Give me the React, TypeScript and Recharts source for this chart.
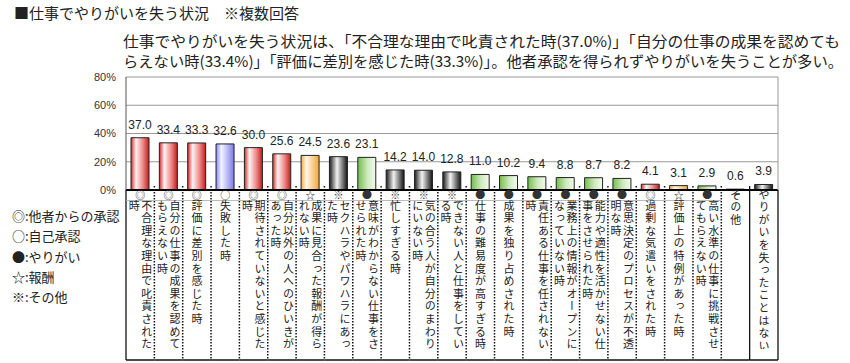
import React from "react";
import {
  BarChart,
  Bar,
  XAxis,
  YAxis,
  CartesianGrid,
  Cell,
  LabelList,
} from "recharts";

const categories = [
  "不合理な理由で叱責された時",
  "自分の仕事の成果を認めてもらえない時",
  "評価に差別を感じた時",
  "失敗した時",
  "期待されていないと感じた時",
  "自分以外の人へのひいきがあった時",
  "成果に見合った報酬が得られない時",
  "セクハラやパワハラにあった時",
  "意味がわからない仕事をさせられた時",
  "忙しすぎる時",
  "気の合う人が自分のまわりにいない時",
  "できない人と仕事をしている時",
  "仕事の難易度が高すぎる時",
  "成果を独り占めされた時",
  "責任ある仕事を任されない時",
  "業務上の情報がオープンになっていない時",
  "能力や適性を活かせない仕事をさせられた時",
  "意思決定のプロセスが不透明な時",
  "過剰な気遣いをされた時",
  "評価上の特例があった時",
  "高い水準の仕事に挑戦させてもらえない時",
  "その他",
  "やりがいを失ったことはない",
];

const values = [
  37.0, 33.4, 33.3, 32.6, 30.0, 25.6, 24.5, 23.6, 23.1, 14.2, 14.0, 12.8, 11.0,
  10.2, 9.4, 8.8, 8.7, 8.2, 4.1, 3.1, 2.9, 0.6, 3.9,
];

const symbols = [
  "◎", "◎", "◎", "○", "◎", "◎", "☆", "※", "●", "※", "※", "※", "●",
  "●", "●", "●", "●", "●", "◎", "☆", "●", "", "",
];

const groups = [
  "red", "red", "red", "blue", "red", "red", "orange", "black", "green",
  "black", "black", "black", "green", "green", "green", "green", "green",
  "green", "red", "orange", "green", "black", "black",
];

const yTicks = [0, 20, 40, 60, 80];

const legendItems = [
  "◎:他者からの承認",
  "○:自己承認",
  "●:やりがい",
  "☆:報酬",
  "※:その他",
];

const data = categories.map((name, i) => ({
  name,
  value: values[i],
  symbol: symbols[i],
  group: groups[i],
}));

const W = 850;
const H = 363;
const PLOT_LEFT = 126;
const PLOT_RIGHT = 778;
const PITCH = (PLOT_RIGHT - PLOT_LEFT) / categories.length;
const TABLE_H = 170;
const JP = "'Noto Sans CJK JP', 'Noto Sans', sans-serif";
const NUM = "'Liberation Sans', Arial, sans-serif";

function chunk(text: string, n: number) {
  const chars = Array.from(text);
  const out: string[] = [];
  for (let i = 0; i < chars.length; i += n) out.push(chars.slice(i, i + n).join(""));
  return out;
}

function TableTick(props: any) {
  const { x, y, index } = props;
  const d = data[index];
  if (!d) return null;
  const left = x - PITCH / 2;
  const right = x + PITCH / 2;
  const last = index === data.length - 1;
  const hasSym = d.symbol !== "";
  const solidLeft = index === 0 || index === data.length - 1;
  const lines = chunk(d.name, hasSym ? 12 : 13);
  return (
    <g>
      <line
        x1={left}
        x2={left}
        y1={index === 0 ? y : y - 4}
        y2={y + TABLE_H}
        stroke="#111"
        strokeWidth={solidLeft ? 1.3 : 1.5}
        strokeDasharray={solidLeft ? undefined : "1.6 1.4"}
      />
      {last && (
        <line x1={right} x2={right} y1={y} y2={y + TABLE_H} stroke="#111" strokeWidth={1.3} />
      )}
      <line x1={left} x2={right} y1={y + TABLE_H} y2={y + TABLE_H} stroke="#111" strokeWidth={1.5} />
      {hasSym && (
        <>
          <text
            x={x}
            y={y + 9}
            textAnchor="middle"
            fontSize={10}
            fontFamily={JP}
            fill="#333"
          >
            {d.symbol}
          </text>
          <line x1={left} x2={right} y1={y + 10.5} y2={y + 10.5} stroke="#aaa" strokeWidth={0.8} />
        </>
      )}
      <foreignObject x={left} y={hasSym ? y + 10 : y - 1} width={PITCH} height={TABLE_H - 10}>
        <div style={{ display: "flex", justifyContent: "center", width: "100%", height: "100%" }}>
          <div
            style={{
              writingMode: "vertical-rl",
              fontFamily: JP,
              fontSize: 11,
              lineHeight: "12.5px",
              letterSpacing: "1.6px",
              color: "#222",
              height: TABLE_H - 10,
              whiteSpace: "nowrap",
            }}
          >
            {lines.map((l, i) => (
              <React.Fragment key={i}>
                {l}
                {i < lines.length - 1 && <br />}
              </React.Fragment>
            ))}
          </div>
        </div>
      </foreignObject>
    </g>
  );
}

export default function App() {
  return (
    <div style={{ position: "absolute", left: 0, top: 0, width: W, height: H, background: "#fff" }}>
      <BarChart
        width={W}
        height={H}
        data={data}
        margin={{ top: 77, right: 71, bottom: H - 190 - TABLE_H, left: PLOT_LEFT - 40 }}
      >
        <defs>
          <linearGradient id="g-red" x1="0" y1="0" x2="1" y2="0">
            <stop offset="0" stopColor="#d42a2a" />
            <stop offset="0.28" stopColor="#fff3f3" />
            <stop offset="0.65" stopColor="#ef8a8a" />
            <stop offset="1" stopColor="#c41c1c" />
          </linearGradient>
          <linearGradient id="g-blue" x1="0" y1="0" x2="1" y2="0">
            <stop offset="0" stopColor="#8a8af0" />
            <stop offset="0.3" stopColor="#f3f3ff" />
            <stop offset="1" stopColor="#7a7ae6" />
          </linearGradient>
          <linearGradient id="g-orange" x1="0" y1="0" x2="1" y2="0">
            <stop offset="0" stopColor="#f4ae48" />
            <stop offset="0.3" stopColor="#fff7e6" />
            <stop offset="1" stopColor="#f0a53a" />
          </linearGradient>
          <linearGradient id="g-black" x1="0" y1="0" x2="1" y2="0">
            <stop offset="0" stopColor="#1a1a1a" />
            <stop offset="0.42" stopColor="#f2f2f2" />
            <stop offset="1" stopColor="#111" />
          </linearGradient>
          <linearGradient id="g-green" x1="0" y1="0" x2="1" y2="0">
            <stop offset="0" stopColor="#74bd4c" />
            <stop offset="0.55" stopColor="#cfeabf" />
            <stop offset="1" stopColor="#f3faee" />
          </linearGradient>
        </defs>
        <CartesianGrid vertical={false} stroke="#999" />
        <XAxis
          dataKey="name"
          interval={0}
          height={TABLE_H}
          tickLine={false}
          tickSize={0}
          tickMargin={0}
          axisLine={{ stroke: "#000", strokeWidth: 2 }}
          tick={<TableTick />}
        />
        <YAxis
          domain={[0, 80]}
          ticks={yTicks}
          width={40}
          tickLine={false}
          tickSize={0}
          tickMargin={10}
          axisLine={{ stroke: "#555" }}
          tickFormatter={(v: number) => `${v}%`}
          tick={{ fontSize: 11, fill: "#333", fontFamily: NUM }}
        />
        <YAxis
          yAxisId="r"
          orientation="right"
          width={1}
          tick={false}
          tickLine={false}
          axisLine={{ stroke: "#999" }}
        />
        <Bar dataKey="value" barSize={18} stroke="#222" strokeWidth={1} isAnimationActive={false}>
          {data.map((d, i) => (
            <Cell key={i} fill={`url(#g-${d.group})`} />
          ))}
          <LabelList
            dataKey="value"
            position="top"
            offset={9}
            fontSize={12}
            fill="#222"
            fontFamily={NUM}
            formatter={(v: any) => Number(v).toFixed(1)}
          />
        </Bar>
      </BarChart>
      <svg
        width={W}
        height={H}
        style={{ position: "absolute", left: 0, top: 0, pointerEvents: "none" }}
      >
        <text x={14} y={19} fontSize={15} fontFamily={JP} fill="#222">
          ■仕事でやりがいを失う状況　※複数回答
        </text>
        <text
          x={123}
          y={47}
          fontSize={15}
          fontFamily={JP}
          fill="#222"
          textLength={717}
          lengthAdjust="spacingAndGlyphs"
        >
          仕事でやりがいを失う状況は、「不合理な理由で叱責された時(37.0%)」「自分の仕事の成果を認めても
        </text>
        <text
          x={123}
          y={67}
          fontSize={15}
          fontFamily={JP}
          fill="#222"
          textLength={720}
          lengthAdjust="spacingAndGlyphs"
        >
          らえない時(33.4%)」「評価に差別を感じた時(33.3%)」。他者承認を得られずやりがいを失うことが多い。
        </text>
        {legendItems.map((t, i) => (
          <text key={t} x={12} y={221 + i * 20.3} fontSize={13} fontFamily={JP} fill="#222">
            {t}
          </text>
        ))}
      </svg>
    </div>
  );
}
